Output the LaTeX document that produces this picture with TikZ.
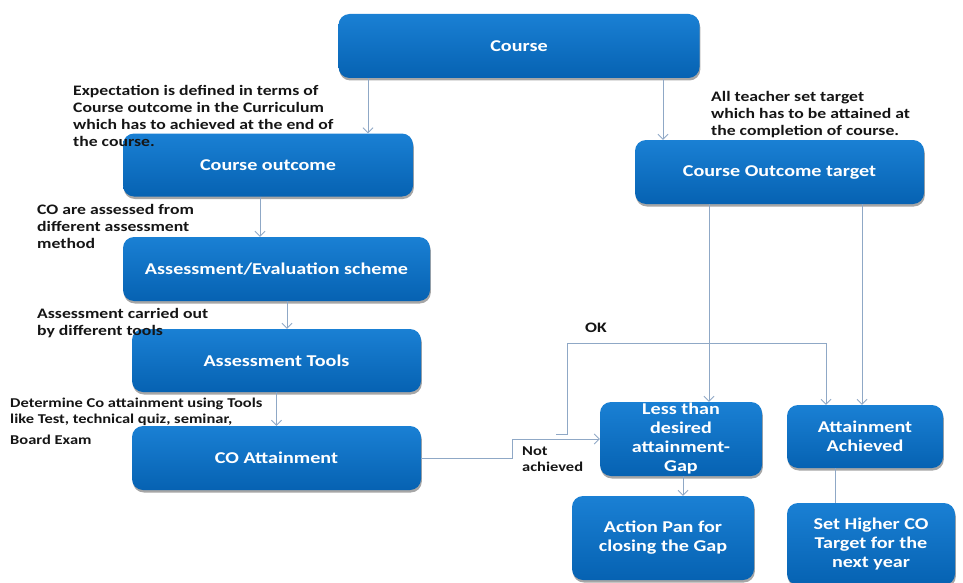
\documentclass[tikz,border=0pt]{standalone}
\usepackage{fontspec}
\setmainfont{Carlito}[FakeStretch=1.22]
\usepackage{tikz}
\usetikzlibrary{arrows.meta,shadows}
\definecolor{boxblue}{HTML}{0A6FC4}
\definecolor{boxtop}{HTML}{1A80D4}
\definecolor{boxbot}{HTML}{0662B2}
\definecolor{linkgray}{HTML}{8FA8C6}
\definecolor{notegray}{HTML}{151515}

\begin{document}
\begin{tikzpicture}[x=1pt, y=-1pt,
    box/.style={rounded corners=11pt, top color=boxtop, bottom color=boxbot,
        text=white, align=center, inner sep=0pt,
        font=\fontsize{16.5}{19}\selectfont\bfseries,
        drop shadow={shadow xshift=0.8pt, shadow yshift=-2.5pt, opacity=0.35, fill=black}},
    note/.style={anchor=north west, align=left, inner sep=0pt, text=notegray,
        font=\fontsize{14.5}{17}\selectfont\bfseries},
    small/.style={anchor=north west, align=left, inner sep=0pt, text=notegray,
        font=\fontsize{13.5}{16}\selectfont\bfseries},
    link/.style={draw=linkgray, line width=0.8pt},
    tip/.style={-{Straight Barb[length=5pt,width=10pt]}}]
    \useasboundingbox (0,0) rectangle (963,583);

    \node[box, minimum width=361pt, minimum height=64pt] (course) at (519,46) {Course};
    \node[box, minimum width=290pt, minimum height=63pt] (cout) at (268,165) {Course outcome};
    \node[box, minimum width=289pt, minimum height=64pt] (cotarget) at (779.5,172) {Course Outcome target};
    \node[box, minimum width=307pt, minimum height=64pt] (scheme) at (276.5,269) {Assessment/Evaluation scheme};
    \node[box, minimum width=289pt, minimum height=63pt] (tools) at (276.5,360.5) {Assessment Tools};
    \node[box, minimum width=289pt, minimum height=64pt] (coatt) at (276.5,458) {CO Attainment};
    \node[box, minimum width=162pt, minimum height=74pt] (gap) at (681,439) {Less than\\desired\\attainment-\\Gap};
    \node[box, minimum width=156pt, minimum height=63pt] (achieved) at (865,436.5) {Attainment\\Achieved};
    \node[box, minimum width=182pt, minimum height=84pt] (action) at (663,538) {Action Pan for\\closing the Gap};
    \node[box, minimum width=168pt, minimum height=82pt] (higher) at (871,544) {Set Higher CO\\Target for the\\next year};

    \node[note] (expect) at (73,85) {Expectation is defined in terms of\\Course outcome in the Curriculum\\which has to achieved at the end of\\the course.};
    \node[note] (assessed) at (37,204) {CO are assessed from\\different assessment\\method};
    \node[note] (carried) at (37,308) {Assessment carried out\\by different tools};
    \node[small] (determine) at (10,398) {Determine Co attainment using Tools\\like Test, technical quiz, seminar,};
    \node[small] (board) at (10,435) {Board Exam};
    \node[note] (teacher) at (711,91) {All teacher set target\\which has to be attained at\\the completion of course.};
    \node[note] (ok) at (585,323) {OK};
    \node[small] (notach) at (522,447) {Not\\achieved};

    \coordinate (okstart) at (556,434);

    \draw[link, tip] ([xshift=-151pt]course.south) -- ([xshift=100pt]cout.north);
    \draw[link, tip] ([xshift=144pt]course.south) -- ([xshift=-116.5pt]cotarget.north);
    \draw[link, tip] ([xshift=-8pt]cout.south) -- ([xshift=-16.5pt]scheme.north);
    \draw[link, tip] ([xshift=10.5pt]scheme.south) -- ([xshift=10.5pt]tools.north);
    \draw[link, tip] (tools.south) -- (coatt.north);
    \draw[link, tip] ([xshift=-70.5pt]cotarget.south) -- ([xshift=28pt]gap.north);
    \draw[link, tip] ([xshift=82.5pt]cotarget.south) -- ([xshift=-3pt]achieved.north);
    \draw[link, tip] (coatt.east) -- ++(91,0) |- (gap.west);
    \draw[link, tip] (okstart) -- ++(11,0) -- ++(0,-91) -| ([xshift=-39pt]achieved.north);
    \draw[link, tip] ([xshift=2pt]gap.south) -- ([xshift=20pt]action.north);
    \draw[link] ([xshift=-30pt]achieved.south) -- ([xshift=-36pt]higher.north);
\end{tikzpicture}
\end{document}
